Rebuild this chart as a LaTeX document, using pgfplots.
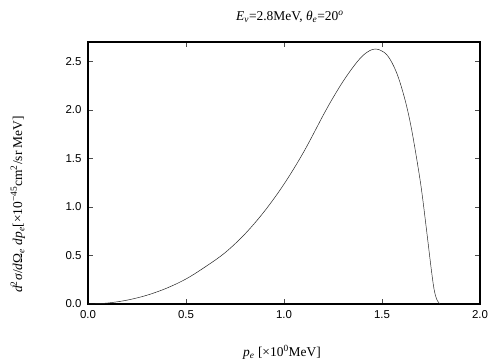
\documentclass[border=0pt]{standalone}
\usepackage{fontspec}
\setmainfont{Liberation Serif}
\newfontfamily\tickfont{Liberation Sans}
\usepackage{pgfplots}
\pgfplotsset{compat=1.18}
\begin{document}
\begin{tikzpicture}
\useasboundingbox (-88bp,-56bp) rectangle (416bp,304bp);
\begin{axis}[
  at={(0,0)}, anchor=south west,
  scale only axis, width=392bp, height=262bp,
  xmin=0, xmax=2, ymin=0, ymax=2.7,
  xtick={0,0.5,1,1.5,2}, ytick={0,0.5,1,1.5,2,2.5},
  tick align=inside, major tick length=5bp,
  axis line style={line width=1.1pt},
  tick style={line width=0.6pt, black!70},
  ticklabel style={font=\tickfont\fontsize{11.5}{13}\selectfont},
  /pgf/number format/assume math mode=true,
  /pgf/number format/.cd, fixed, fixed zerofill, precision=1,
  /pgfplots/.cd,
  xticklabel style={yshift=-3bp},
  yticklabel style={xshift=-3bp},
  clip=false,
]
\addplot[black!85, line width=0.5pt, smooth, tension=0.55] coordinates {
(0.0,0.0) (0.1,0.01) (0.2,0.04) (0.3,0.09) (0.4,0.162)
(0.5,0.258) (0.6,0.385) (0.7,0.53) (0.8,0.72) (0.9,0.955)
(1.0,1.235) (1.1,1.565) (1.2,1.945) (1.25,2.125) (1.3,2.29)
(1.35,2.435) (1.39,2.535) (1.42,2.59) (1.44,2.614) (1.465,2.628)
(1.49,2.617) (1.51,2.595) (1.53,2.555) (1.55,2.49)
(1.575,2.381) (1.6,2.23) (1.626,2.036)
(1.65,1.81) (1.675,1.52) (1.7,1.20) (1.725,0.80) (1.75,0.38)
(1.765,0.16) (1.777,0.06) (1.787,0.02) (1.796,0.0)
};
\node[font=\fontsize{13.5}{15}\selectfont] at (axis description cs:0.515,1.095)
  {\textit{E}\textsubscript{\textit{ν}}=2.8MeV,\ \textit{θ}\textsubscript{\textit{e}}=20\textsuperscript{\textit{o}}};
\node[font=\fontsize{13.5}{15}\selectfont] at (axis description cs:0.495,-0.183)
  {\textit{p}\textsubscript{\textit{e}} [×10\textsuperscript{0}MeV]};
\node[font=\fontsize{13.5}{15}\selectfont, rotate=90] at (axis description cs:-0.179,0.38)
  {\textit{d}\textsuperscript{2}\textit{σ}/\textit{d}Ω\textsubscript{\textit{e}} \textit{dp}\textsubscript{\textit{e}}[×10\textsuperscript{−45}cm\textsuperscript{2}/sr MeV]};
\end{axis}
\end{tikzpicture}
\end{document}
